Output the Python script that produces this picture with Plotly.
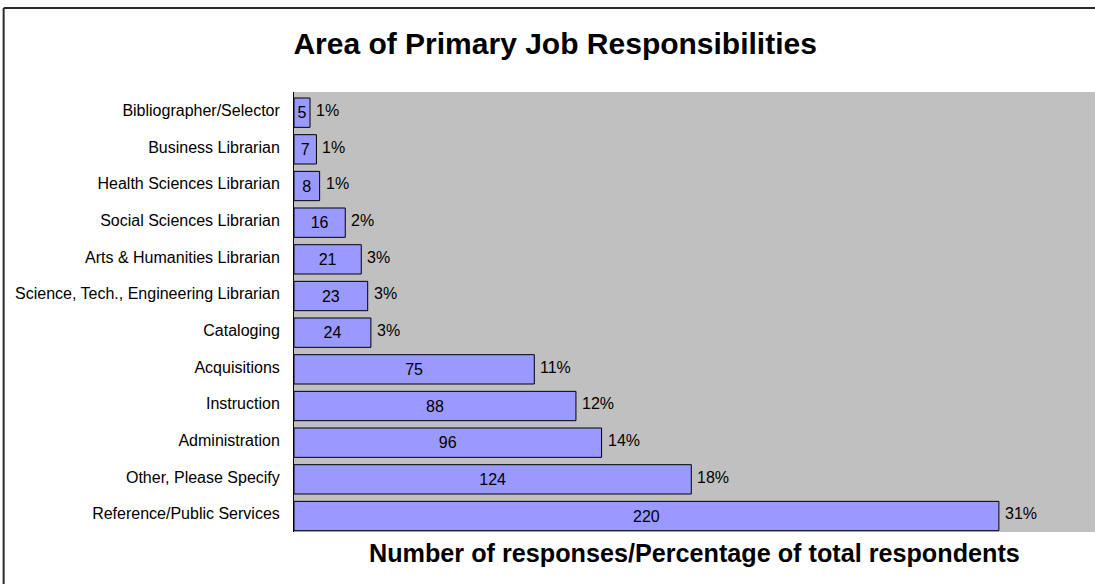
import plotly.graph_objects as go

categories = [
    "Bibliographer/Selector",
    "Business Librarian",
    "Health Sciences Librarian",
    "Social Sciences Librarian",
    "Arts & Humanities Librarian",
    "Science, Tech., Engineering Librarian",
    "Cataloging",
    "Acquisitions",
    "Instruction",
    "Administration",
    "Other, Please Specify",
    "Reference/Public Services",
]
responses = [5, 7, 8, 16, 21, 23, 24, 75, 88, 96, 124, 220]
percents = ["1%", "1%", "1%", "2%", "3%", "3%", "3%", "11%", "12%", "14%", "18%", "31%"]

FONT = "Liberation Sans, Arial, sans-serif"

fig = go.Figure()
fig.add_trace(go.Bar(
    x=responses,
    y=categories,
    orientation="h",
    width=0.8,
    offset=-0.336,
    marker=dict(color="#9999FF", line=dict(color="#000000", width=1)),
    text=[str(v) for v in responses],
    textposition="inside",
    insidetextanchor="middle",
    constraintext="none",
    textfont=dict(family=FONT, size=16, color="#000000"),
    hoverinfo="x+y",
))

annotations = []
for c, v, p in zip(categories, responses, percents):
    annotations.append(dict(
        x=v, y=c, xref="x", yref="y", text=p, showarrow=False,
        xanchor="left", yanchor="middle", xshift=4, yshift=0,
        font=dict(family=FONT, size=16, color="#000000"),
    ))

annotations.append(dict(
    x=0.5, y=-0.048, xref="paper", yref="paper",
    text="<b>Number of responses/Percentage of total respondents</b>",
    showarrow=False, xanchor="center", yanchor="middle",
    font=dict(family=FONT, size=25.2, color="#000000"),
))

fig.update_layout(
    width=1095,
    height=584,
    margin=dict(l=294, r=0, t=92, b=52, pad=0),
    paper_bgcolor="#FFFFFF",
    plot_bgcolor="#C0C0C0",
    showlegend=False,
    bargap=0.2,
    title=dict(
        text="<b>Area of Primary Job Responsibilities</b>",
        x=0.507, xref="container", xanchor="center",
        y=0.925, yref="container", yanchor="middle",
        font=dict(family=FONT, size=30, color="#000000"),
    ),
    xaxis=dict(
        range=[0, 250],
        showgrid=False,
        zeroline=False,
        showticklabels=False,
        ticks="",
        showline=False,
        fixedrange=True,
    ),
    yaxis=dict(
        type="category",
        autorange="reversed",
        showgrid=False,
        zeroline=False,
        showline=True,
        linecolor="#000000",
        linewidth=1,
        ticks="",
        ticklabelstandoff=10,
        tickfont=dict(family=FONT, size=16, color="#000000"),
        fixedrange=True,
    ),
    annotations=annotations,
    shapes=[
        dict(type="line", xref="paper", yref="paper",
             x0=-0.3625, x1=1.2, y0=1.191, y1=1.191,
             line=dict(color="#2b2b2b", width=2)),
        dict(type="line", xref="paper", yref="paper",
             x0=-0.3625, x1=-0.3625, y0=-0.3, y1=1.191,
             line=dict(color="#2b2b2b", width=2)),
    ],
)

fig.write_html(
    "out.html",
    config={"displayModeBar": False},
    post_script="document.body.style.margin='0';document.body.style.overflow='hidden';",
)
